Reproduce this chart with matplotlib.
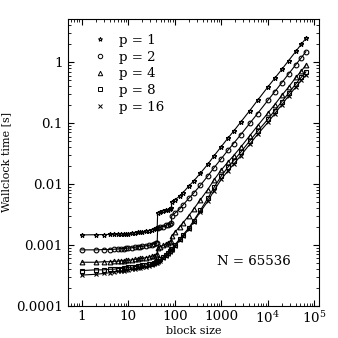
import matplotlib
matplotlib.use("Agg")
import matplotlib.pyplot as plt
from matplotlib.lines import Line2D
from matplotlib.ticker import FixedLocator, LogLocator, NullFormatter

plt.rcParams['font.family'] = 'DejaVu Serif'
plt.rcParams['mathtext.fontset'] = 'dejavuserif'

# block sizes (shared by all runs), N = 65536
block = [1, 2, 3, 4, 5, 6, 7, 8, 9, 10, 12, 14, 16, 18, 20, 24, 28, 32, 36, 40, 42,
         43, 48, 56, 64, 72, 80, 85,
         86, 100, 128, 150, 200, 256, 355, 512, 700, 1000, 1400, 1830, 2600, 4096,
         6000, 10000, 14000, 20000, 28000, 40000, 52000, 65536]

t_p1 = [0.00146, 0.00147, 0.00148, 0.00149, 0.0015, 0.0015, 0.00151, 0.00152, 0.00153, 0.00154,
        0.00156, 0.00158, 0.0016, 0.00162, 0.00164, 0.00168, 0.00172, 0.00177, 0.00182, 0.00187, 0.0019,
        0.0034, 0.0035, 0.0036, 0.0037, 0.0038, 0.0039, 0.004,
        0.0051, 0.0055, 0.0063, 0.0072, 0.0092, 0.0112, 0.015, 0.021, 0.029, 0.041, 0.057, 0.073,
        0.103, 0.16, 0.235, 0.39, 0.54, 0.76, 1.06, 1.5, 1.95, 2.45]
t_p2 = [0.00083, 0.00083, 0.00084, 0.00084, 0.00085, 0.00086, 0.00087, 0.00087, 0.00088, 0.00089,
        0.0009, 0.00092, 0.00093, 0.00094, 0.00095, 0.00097, 0.00099, 0.00101, 0.00104, 0.00107, 0.00109,
        0.0019, 0.00195, 0.002, 0.0021, 0.00215, 0.0022, 0.00225,
        0.003, 0.0033, 0.0039, 0.0045, 0.0058, 0.0071, 0.0095, 0.0135, 0.0185, 0.026, 0.036, 0.046,
        0.064, 0.099, 0.143, 0.235, 0.325, 0.46, 0.64, 0.91, 1.17, 1.48]
t_p4 = [0.00052, 0.00052, 0.00053, 0.00053, 0.00054, 0.00054, 0.00055, 0.00055, 0.00056, 0.00056,
        0.00057, 0.00058, 0.00059, 0.0006, 0.0006, 0.00062, 0.00063, 0.00065, 0.00067, 0.00069, 0.0007,
        0.0009, 0.00093, 0.00098, 0.00103, 0.00108, 0.00113, 0.00116,
        0.0014, 0.0016, 0.002, 0.0023, 0.003, 0.0039, 0.0055, 0.0081, 0.0117, 0.017, 0.023, 0.029,
        0.04, 0.062, 0.09, 0.145, 0.2, 0.285, 0.39, 0.56, 0.71, 0.89]
t_p8 = [0.00038, 0.00039, 0.00039, 0.0004, 0.0004, 0.00041, 0.00041, 0.00042, 0.00042, 0.00043,
        0.00043, 0.00044, 0.00045, 0.00045, 0.00046, 0.00047, 0.00048, 0.00049, 0.00051, 0.00053, 0.00054,
        0.00055, 0.00058, 0.00063, 0.00069, 0.00075, 0.00081, 0.00085,
        0.00086, 0.001, 0.00125, 0.00145, 0.0019, 0.0025, 0.0037, 0.0058, 0.0088, 0.0135, 0.019, 0.024,
        0.033, 0.051, 0.073, 0.115, 0.16, 0.225, 0.31, 0.44, 0.56, 0.69]
t_p16 = [0.00032, 0.00033, 0.00034, 0.00035, 0.00036, 0.00037, 0.00037, 0.00038, 0.00039, 0.00039,
         0.0004, 0.00041, 0.00042, 0.00042, 0.00043, 0.00044, 0.00045, 0.00047, 0.00048, 0.0005, 0.00051,
         0.00052, 0.00055, 0.0006, 0.00066, 0.00072, 0.00078, 0.00082,
         0.00083, 0.00095, 0.0012, 0.0014, 0.0018, 0.0024, 0.0035, 0.0052, 0.0078, 0.012, 0.0165, 0.021,
         0.029, 0.045, 0.065, 0.102, 0.142, 0.2, 0.28, 0.39, 0.5, 0.61]

series = [("p = 1", t_p1, "*"), ("p = 2", t_p2, "o"), ("p = 4", t_p4, "^"),
          ("p = 8", t_p8, "s"), ("p = 16", t_p16, "x")]

xticks = [1, 10, 100, 1000, 1e4, 1e5]
xticklabels = ["1", "10", "100", "1000", r"$10^4$", r"$10^5$"]
yticks = [1e-4, 1e-3, 1e-2, 1e-1, 1]
yticklabels = ["0.0001", "0.001", "0.01", "0.1", "1"]

fig = plt.figure(figsize=(3.38, 3.38), dpi=100)
ax = fig.add_axes([0.2, 0.095, 0.744, 0.849])

handles = []
for label, t, m in series:
    ax.plot(block, t, color="black", lw=0.8, marker=m, ms=3.4, mfc="none",
            mec="black", mew=0.8)
    handles.append(Line2D([], [], ls="none", marker=m, ms=3.2, mfc="none",
                          mec="black", mew=0.7, color="black"))

ax.set_xscale("log")
ax.set_yscale("log")
ax.set_xlim(0.5, 1.26e5)
ax.set_ylim(1e-4, 5.1)

ax.xaxis.set_major_locator(FixedLocator(xticks))
ax.set_xticklabels(xticklabels)
ax.yaxis.set_major_locator(FixedLocator(yticks))
ax.set_yticklabels(yticklabels)
ax.xaxis.set_minor_locator(LogLocator(base=10, subs=range(2, 10), numticks=20))
ax.yaxis.set_minor_locator(LogLocator(base=10, subs=range(2, 10), numticks=20))
ax.xaxis.set_minor_formatter(NullFormatter())
ax.yaxis.set_minor_formatter(NullFormatter())

ax.tick_params(which="both", direction="in", top=True, right=True, labelsize=9.6)
ax.tick_params(which="major", length=4.5, width=0.8)
ax.tick_params(which="minor", length=2.3, width=0.6)
ax.tick_params(axis="x", pad=3)
for s in ax.spines.values():
    s.set_linewidth(0.8)

ax.set_xlabel("block size", fontsize=8, labelpad=0)
ax.set_ylabel("Wallclock time [s]", fontsize=8, labelpad=3)

ax.legend(handles, [s[0] for s in series], loc="upper left", frameon=False,
          fontsize=9.6, handlelength=1.0, handletextpad=0.9, labelspacing=0.28,
          borderaxespad=0.4, bbox_to_anchor=(0.06, 0.985))

ax.text(0.594, 0.153, "N = 65536", transform=ax.transAxes, fontsize=9.6,
        ha="left", va="center")

fig.savefig("out.png", dpi=100)
